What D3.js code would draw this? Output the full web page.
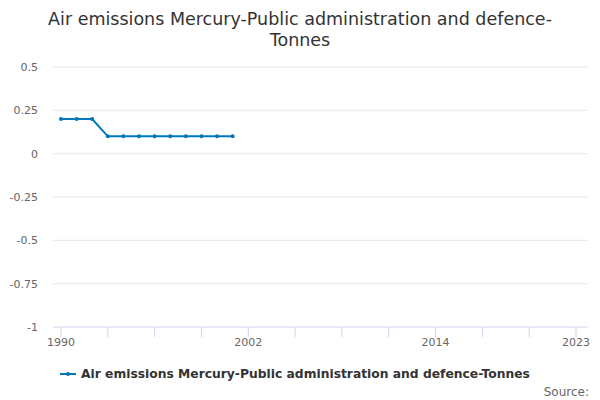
<!DOCTYPE html>
<html>
<head>
<meta charset="utf-8">
<script src="https://cdn.jsdelivr.net/npm/d3@7"></script>
<style>
body { margin: 0; background: #fff; }
text { font-family: "DejaVu Sans", sans-serif; }
</style>
</head>
<body>
<script>
const years = [1990, 1991, 1992, 1993, 1994, 1995, 1996, 1997, 1998, 1999, 2000, 2001]
const values = [0.2, 0.2, 0.2, 0.1, 0.1, 0.1, 0.1, 0.1, 0.1, 0.1, 0.1, 0.1]
const yTicks = [-1, -0.75, -0.5, -0.25, 0, 0.25, 0.5]
const xTicks = d3.range(1990, 2024, 3)
const xLabels = [1990, 2002, 2014, 2023]
const seriesName = 'Air emissions Mercury-Public administration and defence-Tonnes'
const color = '#0077bb'

const width = 600
const height = 400
const plotLeft = 53
const plotRight = 588

const svg = d3.select('body')
	.append('svg')
	.attr('width', width)
	.attr('height', height)

const x = d3.scaleLinear()
	.domain([1990, 2023])
	.range([61, 576])

const y = d3.scaleLinear()
	.domain([-1, 0.5])
	.range([327, 67])

// title
svg.append('text')
	.attr('x', 300).attr('y', 25)
	.attr('text-anchor', 'middle')
	.attr('font-size', 17.5)
	.attr('fill', '#333')
	.selectAll('tspan')
	.data(['Air emissions Mercury-Public administration and defence-', 'Tonnes'])
	.enter()
	.append('tspan')
	.attr('x', 300)
	.attr('dy', (d, i) => i ? 21 : 0)
	.text(d => d)

// grid + y labels
svg.selectAll('.grid')
	.data(yTicks.filter(d => d !== -1))
	.enter()
	.append('line')
	.attr('x1', plotLeft).attr('x2', plotRight)
	.attr('y1', d => y(d)).attr('y2', d => y(d))
	.attr('stroke', '#e6e6e6')

svg.selectAll('.ylab')
	.data(yTicks)
	.enter()
	.append('text')
	.attr('x', 38)
	.attr('y', d => y(d) + 4)
	.attr('text-anchor', 'end')
	.attr('font-size', 11)
	.attr('fill', '#666')
	.text(d => d)

// x axis
svg.append('line')
	.attr('x1', plotLeft).attr('x2', plotRight)
	.attr('y1', y(-1)).attr('y2', y(-1))
	.attr('stroke', '#ccd6eb')

svg.selectAll('.xtick')
	.data(xTicks)
	.enter()
	.append('line')
	.attr('x1', d => x(d)).attr('x2', d => x(d))
	.attr('y1', y(-1)).attr('y2', y(-1) + 10)
	.attr('stroke', '#ccd6eb')

svg.selectAll('.xlab')
	.data(xLabels)
	.enter()
	.append('text')
	.attr('x', d => x(d))
	.attr('y', y(-1) + 19)
	.attr('text-anchor', 'middle')
	.attr('font-size', 11)
	.attr('fill', '#666')
	.text(d => d)

// series
const pts = years.map((d, i) => [d, values[i]])

svg.append('path')
	.datum(pts)
	.attr('d', d3.line().x(d => x(d[0])).y(d => y(d[1])))
	.attr('fill', 'none')
	.attr('stroke', color)
	.attr('stroke-width', 2)

svg.selectAll('.pt')
	.data(pts)
	.enter()
	.append('circle')
	.attr('cx', d => x(d[0]))
	.attr('cy', d => y(d[1]))
	.attr('r', 2)
	.attr('fill', color)

// legend
svg.append('line')
	.attr('x1', 60).attr('x2', 76)
	.attr('y1', 374).attr('y2', 374)
	.attr('stroke', color)
	.attr('stroke-width', 2)
svg.append('circle')
	.attr('cx', 68).attr('cy', 374).attr('r', 2)
	.attr('fill', color)
svg.append('text')
	.attr('x', 81).attr('y', 378)
	.attr('font-size', 12.3)
	.attr('font-weight', 'bold')
	.attr('fill', '#333')
	.text(seriesName)

svg.append('text')
	.attr('x', 589).attr('y', 396)
	.attr('text-anchor', 'end')
	.attr('font-size', 12)
	.attr('fill', '#666')
	.text('Source:')
</script>
</body>
</html>
